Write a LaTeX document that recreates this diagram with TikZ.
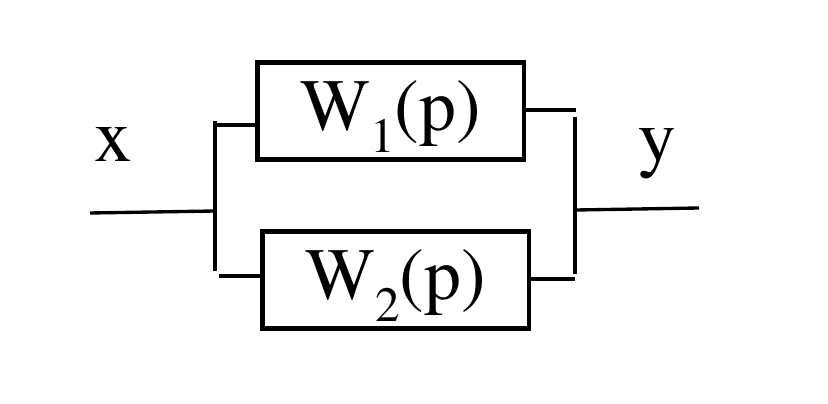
\documentclass[tikz,border=0pt]{standalone}
\usepackage[T1]{fontenc}
\usepackage{mathptmx}
\usetikzlibrary{calc}
\newcommand{\blocklabel}[1]{W\raisebox{-12.5pt}{\fontsize{28}{28}\selectfont #1}(p)}

\begin{document}
\begin{tikzpicture}[x=0.02cm,y=-0.02cm,line width=1.9pt]
  \tikzstyle{block}=[rectangle,draw=black,fill=white,line width=2.8pt,
                     minimum width=5.33cm,minimum height=1.93cm,inner sep=0pt,
                     text height=1.2cm,text depth=0.4cm,
                     font=\fontsize{42}{50}\selectfont]
  \tikzstyle{signal}=[inner sep=0pt,anchor=base,font=\fontsize{43}{50}\selectfont]

  \useasboundingbox (0,0) rectangle (828,404);

  \node[block] (W1) at (390.8,111) {\blocklabel{1}};
  \node[block] (W2) at (395.8,280) {\blocklabel{2}};

  \node[signal] (x) at (113,162) {x};
  \node[signal] (y) at (657,163) {y};

  % left branch point
  \coordinate (xin) at (90,213);
  \coordinate (jl)  at (215,211);
  \coordinate (jlt) at (215,121);
  \coordinate (jlb) at (215,271);
  \coordinate (s1)  at (215,125);
  \coordinate (s2)  at (219,276);
  % right summing point
  \coordinate (jr)  at (576,210);
  \coordinate (jrt) at (575,117);
  \coordinate (jrb) at (575,274);
  \coordinate (r1)  at (576,110);
  \coordinate (r2)  at (575,279);
  \coordinate (yout) at (699,208);

  \draw (xin) -- (jl);
  \draw (jlt) -- (jlb);
  \draw (s1) -- (s1 -| W1.west);
  \draw (s2) -- (s2 -| W2.west);
  \draw (r1 -| W1.east) -- (r1);
  \draw (r2 -| W2.east) -- (r2);
  \draw (jrt) -- (jrb);
  \draw (jr) -- (yout);
\end{tikzpicture}
\end{document}
